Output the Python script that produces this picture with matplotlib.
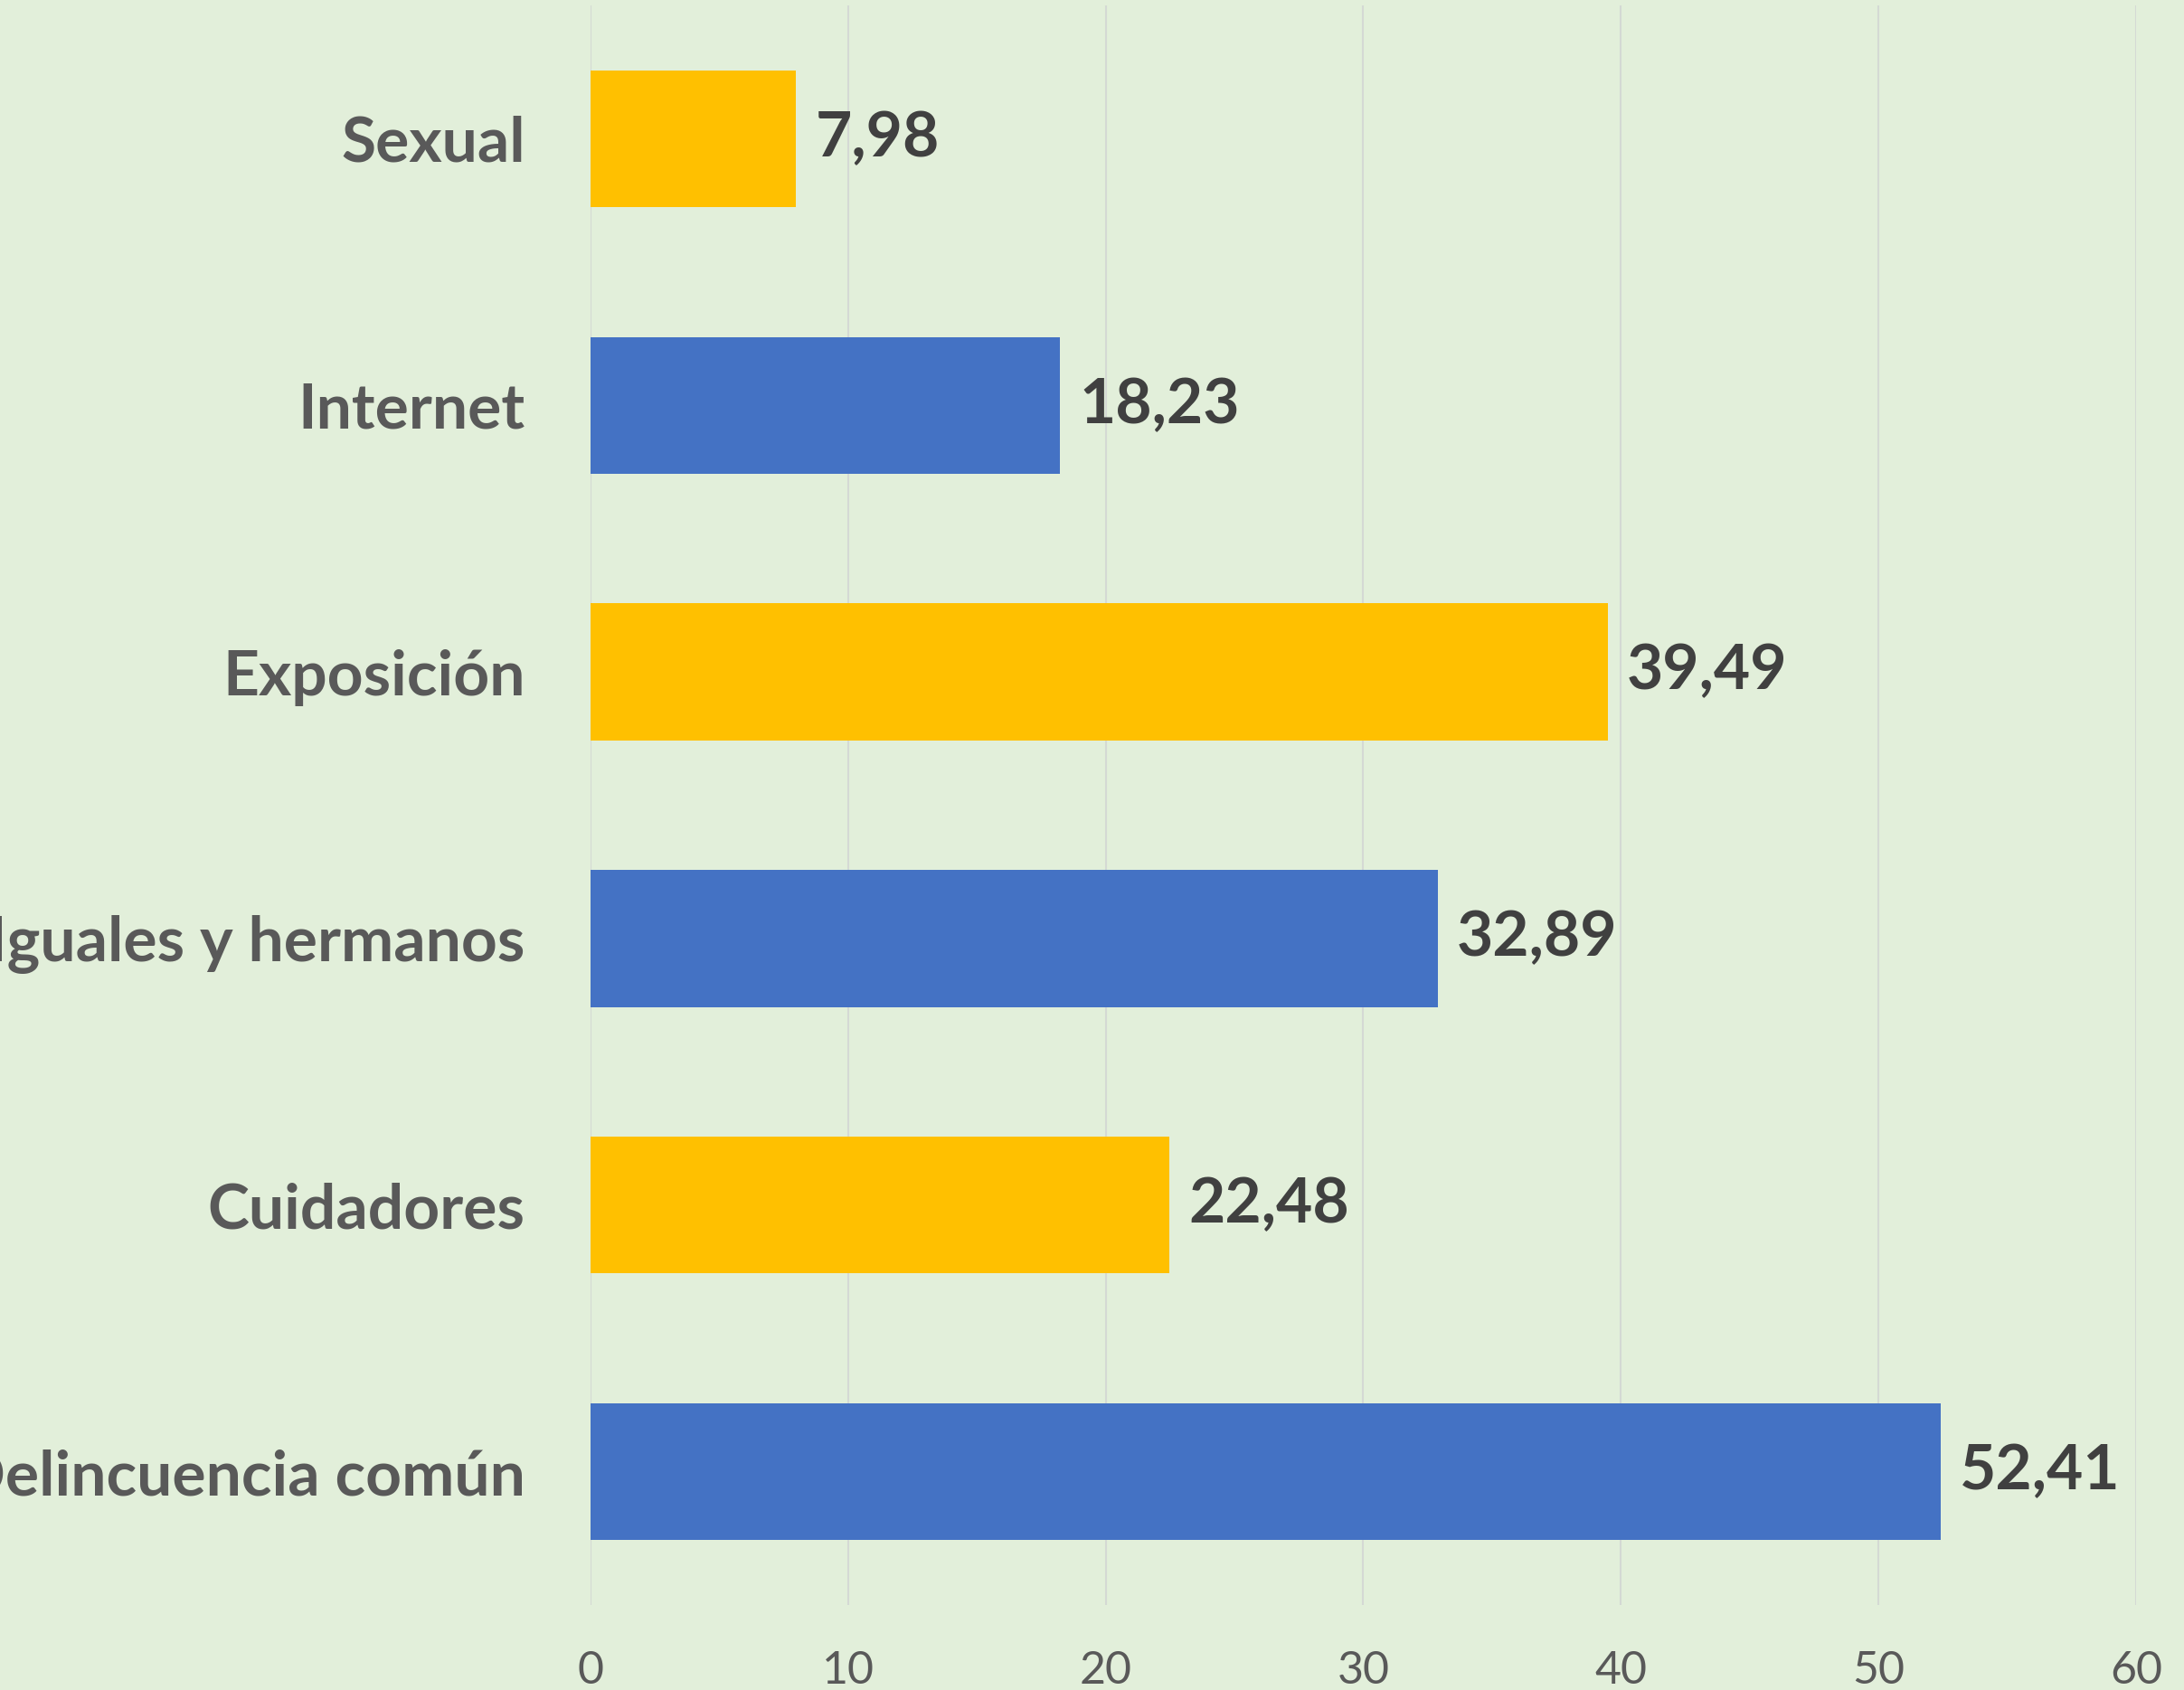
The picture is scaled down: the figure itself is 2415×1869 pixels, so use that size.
import matplotlib.pyplot as plt

categorias = ["Sexual", "Internet", "Exposición", "Iguales y hermanos", "Cuidadores", "Delincuencia común"]
valores = [7.98, 18.23, 39.49, 32.89, 22.48, 52.41]
colores = ["#FFC000", "#4472C4", "#FFC000", "#4472C4", "#FFC000", "#4472C4"]
ticks_x = [0, 10, 20, 30, 40, 50, 60]

fondo = "#E2EFDA"
plt.rcParams["font.family"] = ["Lato", "DejaVu Sans"]

fig = plt.figure(figsize=(24.15, 18.69), dpi=100, facecolor=fondo)
ax = fig.add_axes([0.2704, 0.0503, 0.7076, 0.9465], facecolor=fondo)

pos = list(range(len(categorias)))
ax.barh(pos, valores, height=0.513, color=colores, zorder=2)

for y, v in zip(pos, valores):
    ax.text(v + 0.75, y, f"{v:.2f}".replace(".", ","), va="center", ha="left",
            fontsize=50, fontweight="bold", color="#404040")

ax.set_xlim(0, 60)
ax.set_ylim(-0.5, len(categorias) - 0.5)
ax.invert_yaxis()
ax.set_xticks(ticks_x)
ax.set_yticks(pos)
ax.set_yticklabels(categorias, fontsize=50, fontweight="bold", color="#595959")
ax.tick_params(axis="y", length=0, pad=52)
ax.tick_params(axis="x", length=0, pad=36, labelsize=36, labelcolor="#595959")
ax.grid(axis="x", color="#D4D9D4", linewidth=1.5, zorder=0)
for s in ax.spines.values():
    s.set_visible(False)

fig.savefig("out.png", dpi=100, facecolor=fondo)
